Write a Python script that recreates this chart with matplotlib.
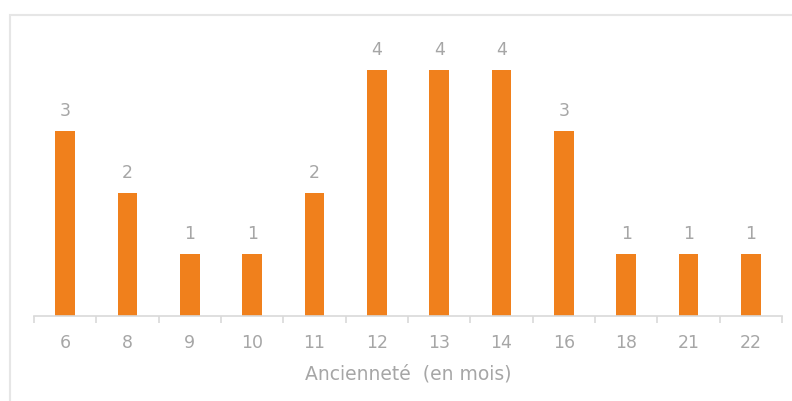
import matplotlib.pyplot as plt
from matplotlib.patches import Rectangle

# data
months = ['6', '8', '9', '10', '11', '12', '13', '14', '16', '18', '21', '22']
counts = [3, 2, 1, 1, 2, 4, 4, 4, 3, 1, 1, 1]

bar_color = '#F0801C'
text_color = '#A6A6A6'
plt.rcParams['font.family'] = ['DejaVu Sans']

fig = plt.figure(figsize=(7.92, 4.01), dpi=100)

# chart frame (only left and top edges visible in the crop)
fig.patches.append(Rectangle((10 / 792, -0.05), 1.0, (401 - 15) / 401 + 0.05,
                             transform=fig.transFigure, fill=False,
                             edgecolor='#E6E6E6', linewidth=1.5))

ax = fig.add_axes([34 / 792, (401 - 316) / 401, (782 - 34) / 792, (316 - 39) / 401])
x = range(len(months))
bars = ax.bar(x, counts, width=0.32, color=bar_color)

for xi, v in zip(x, counts):
    ax.annotate(str(v), (xi, v), xytext=(0, 8), textcoords='offset points',
                ha='center', va='bottom', fontsize=12.5, color=text_color)

ax.set_xlim(-0.5, len(months) - 0.5)
ax.set_ylim(0, 4.5)
ax.set_yticks([])
for s in ['top', 'right', 'left']:
    ax.spines[s].set_visible(False)
ax.spines['bottom'].set_color('#D9D9D9')
ax.spines['bottom'].set_linewidth(1.2)

ax.set_xticks(x)
ax.set_xticklabels(months, fontsize=12.5, color=text_color)
ax.set_xticks([i - 0.5 for i in range(len(months) + 1)], minor=True)
ax.tick_params(axis='x', which='major', length=0, pad=13)
ax.tick_params(axis='x', which='minor', length=5, color='#D9D9D9', width=1.2)
ax.set_xlabel('Ancienneté  (en mois)', fontsize=13.5, color=text_color, labelpad=9)

fig.savefig('out.png', dpi=100)
